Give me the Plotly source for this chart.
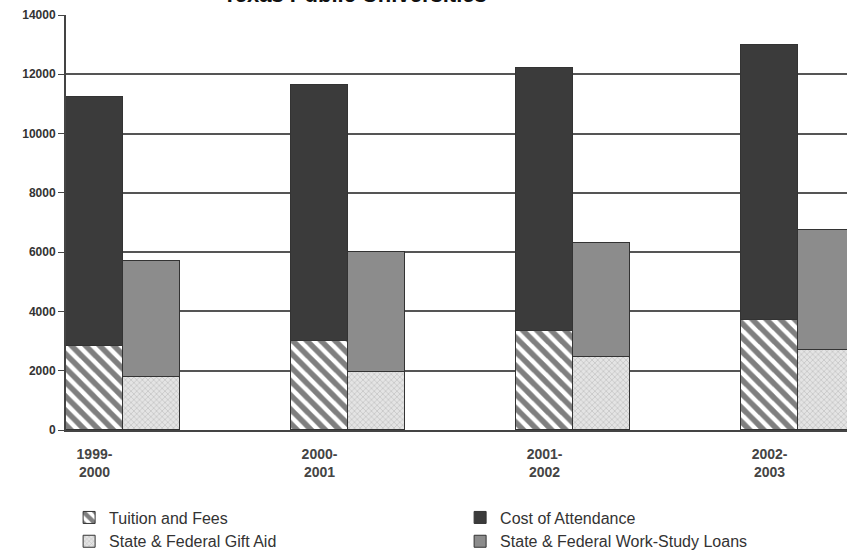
import plotly.graph_objects as go

# ---- data ----
years = ["1999-<br>2000", "2000-<br>2001", "2001-<br>2002", "2002-<br>2003"]
tuition_fees = [2850, 3000, 3350, 3700]
cost_of_attendance = [8400, 8650, 8850, 9300]   # stacked on top of tuition
gift_aid = [1800, 1950, 2450, 2700]
work_study_loans = [3900, 4050, 3850, 4050]     # stacked on top of gift aid
y_ticks = [0, 2000, 4000, 6000, 8000, 10000, 12000, 14000]
y_tick_labels = [str(v) for v in y_ticks]
title_text = "Texas Public Universities"

bw = 0.253
left_x = [i for i in range(len(years))]
right_x = [i + bw for i in range(len(years))]

edge = dict(color="#333333", width=1)

fig = go.Figure()
fig.add_bar(name="Tuition and Fees", x=left_x, y=tuition_fees, width=bw,
            marker=dict(color="white", line=edge,
                        pattern=dict(shape="\\", fgcolor="#000000", bgcolor="white",
                                     size=10, solidity=0.55)))
fig.add_bar(name="Cost of Attendance", x=left_x, y=cost_of_attendance, width=bw,
            marker=dict(color="#3b3b3b", line=edge))
fig.add_bar(name="State & Federal Gift Aid", x=right_x, y=gift_aid, width=bw,
            marker=dict(color="#dcdcdc", line=edge,
                        pattern=dict(shape="x", fgcolor="#9a9a9a", bgcolor="#e4e4e4",
                                     size=4, solidity=0.3)))
fig.add_bar(name="State & Federal Work-Study Loans", x=right_x, y=work_study_loans, width=bw,
            marker=dict(color="#8c8c8c", line=edge))

fig.add_annotation(text="<b>" + title_text + "</b>", xref="paper", yref="paper",
                   x=0.37, y=1, yanchor="bottom", yshift=6, showarrow=False,
                   font=dict(family="Arial, Liberation Sans", size=22, color="#111111"))

fig.update_layout(
    width=847, height=553,
    margin=dict(l=66, r=0, t=15, b=123, autoexpand=False),
    barmode="stack",
    bargap=0,
    paper_bgcolor="white", plot_bgcolor="white",
    font=dict(family="Arial, Liberation Sans", color="#333333"),
    legend=dict(orientation="h", x=0.004, xanchor="left", y=-0.17, yanchor="top",
                entrywidth=346, entrywidthmode="pixels", itemwidth=30,
                font=dict(size=16, color="#333333"), traceorder="normal",
                tracegroupgap=0),
    showlegend=True,
)
fig.update_xaxes(range=[-bw / 2, 3.344], tickmode="array", tickvals=left_x, ticktext=years,
                 showgrid=False, showline=True, linecolor="#444444", linewidth=2,
                 ticks="", tickfont=dict(size=14, color="#444444", weight="bold"),
                 ticklabelstandoff=10)
fig.update_yaxes(range=[0, 14000], tickmode="array", tickvals=y_ticks, ticktext=y_tick_labels,
                 showgrid=True, gridcolor="#555555", gridwidth=2,
                 showline=True, linecolor="#444444", linewidth=2,
                 ticks="outside", ticklen=6, tickcolor="#444444", tickwidth=1,
                 tickfont=dict(size=12, color="#333333", weight="bold"),
                 zeroline=False)

fig.write_html("out.html")
